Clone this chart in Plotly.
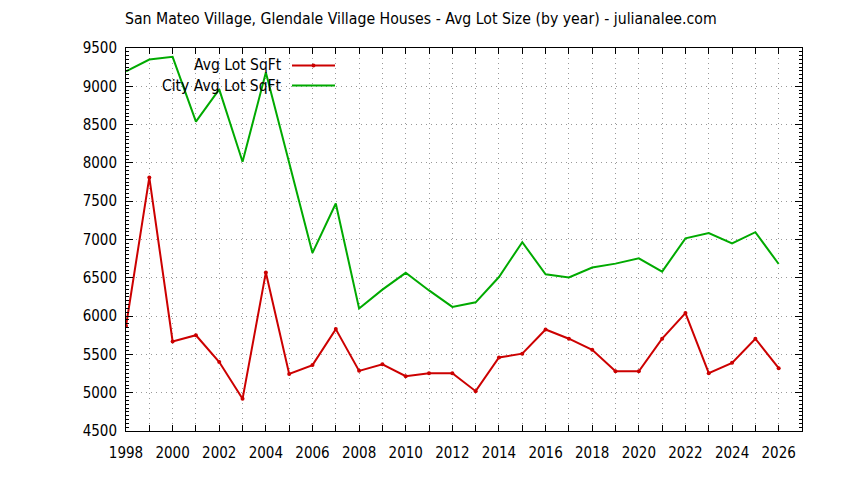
import plotly.graph_objects as go

years = list(range(1998, 2027))
avg_lot = [5870, 7810, 5670, 5750, 5400, 4920, 6570, 5245, 5360, 5830,
           5285, 5370, 5215, 5255, 5255, 5020, 5460, 5510, 5825, 5705,
           5560, 5280, 5280, 5705, 6040, 5255, 5390, 5705, 5320]
city_avg = [9195, 9350, 9385, 8540, 8960, 8015, 9180, 7995, 6825, 7470,
            6100, 6345, 6565, 6335, 6120, 6180, 6510, 6965, 6545, 6505,
            6635, 6685, 6755, 6580, 7015, 7085, 6950, 7095, 6680]
x_tick_vals = list(range(1998, 2028))
x_tick_text = [str(y) if y % 2 == 0 and y <= 2026 else "" for y in x_tick_vals]

RED = "#cc0000"
GREEN = "#00aa00"
FONT = "DejaVu Sans Condensed, DejaVu Sans"

fig = go.Figure()
fig.add_trace(go.Scatter(x=years, y=avg_lot, mode="lines+markers", name="Avg Lot SqFt",
                         line=dict(color=RED, width=2), marker=dict(color=RED, size=4)))
fig.add_trace(go.Scatter(x=years, y=city_avg, mode="lines", name="City Avg Lot SqFt",
                         line=dict(color=GREEN, width=2)))

axis_common = dict(showline=True, linecolor="black", linewidth=1, mirror="ticks",
                   ticks="inside", tickcolor="black", zeroline=False,
                   showgrid=True, gridcolor="#999999", griddash="1px,4px", gridwidth=1,
                   tickfont=dict(family=FONT, size=15, color="black"))

fig.update_xaxes(range=[1998, 2027], tickmode="array", tickvals=x_tick_vals,
                 ticktext=x_tick_text, ticklen=6, ticklabelstandoff=8, **axis_common)
fig.update_yaxes(range=[4500, 9500], dtick=500, tick0=4500, ticklen=7, ticklabelstandoff=5,
                 minor=dict(dtick=50, ticklen=3, ticks="inside", tickcolor="black", showgrid=False),
                 **axis_common)

# page body has an 8px margin; the figure is sized to end at the window edge
OFF = 8
W, H = 844 - OFF, 480 - OFF
left, right, top, bottom = 126 - OFF, 42, 48 - OFF, 49
pw, ph = W - left - right, H - top - bottom

# gnuplot-style legend: right-aligned text followed by line sample
legend_items = [("Avg Lot SqFt", RED, True), ("City Avg Lot SqFt", GREEN, False)]
x0_px, x1_px, text_right_px = 292 - OFF, 335 - OFF, 284 - OFF
for i, (label, col, mk) in enumerate(legend_items):
    ypx = 65.5 + 20 * i - OFF
    yp = 1 - (ypx - top) / ph
    fig.add_annotation(xref="paper", yref="paper", x=(text_right_px - left) / pw, y=yp,
                       text=label, showarrow=False, xanchor="right", yanchor="middle",
                       font=dict(family=FONT, size=15.5, color="black"))
    fig.add_shape(type="line", xref="paper", yref="paper",
                  x0=(x0_px - left) / pw, x1=(x1_px - left) / pw, y0=yp, y1=yp,
                  line=dict(color=col, width=2))
    if mk:
        xm = ((x0_px + x1_px) / 2 - left) / pw
        fig.add_shape(type="circle", xref="paper", yref="paper",
                      x0=xm - 2 / pw, x1=xm + 2 / pw, y0=yp - 2 / ph, y1=yp + 2 / ph,
                      fillcolor=col, line=dict(color=col, width=0))

fig.update_layout(
    width=W, height=H,
    margin=dict(l=left, r=right, t=top, b=bottom),
    paper_bgcolor="white", plot_bgcolor="white",
    showlegend=False,
    title=dict(text="San Mateo Village, Glendale Village Houses - Avg Lot Size (by year) - julianalee.com",
               x=(125 - OFF) / W, xanchor="left", y=1 - (18.5 - OFF) / H, yanchor="middle",
               font=dict(family=FONT, size=15.7, color="black")),
)

fig.write_html("out.html")
